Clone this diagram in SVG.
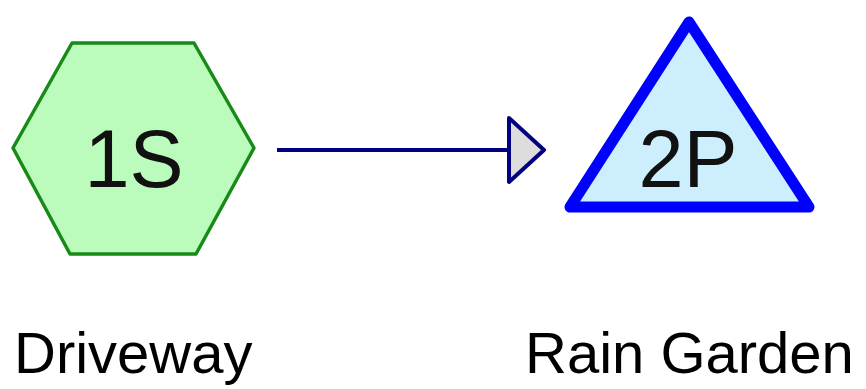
<svg xmlns="http://www.w3.org/2000/svg" width="866" height="389" viewBox="0 0 866 389">
  <style>
    .id { font-family: "Liberation Sans", Arial, sans-serif; font-size: 81px; fill: #111; text-anchor: middle; }
    .label { font-family: "Liberation Sans", Arial, sans-serif; font-size: 58px; fill: #000; }
    .subcat { fill: #bbfbbb; stroke: #178a17; stroke-width: 3.5; stroke-linejoin: round; }
    .pond { fill: #cdeefd; stroke: #0000ff; stroke-width: 11; stroke-linejoin: round; }
    .link { stroke: #000080; stroke-width: 4; fill: none; }
    .head { fill: #dddddd; stroke: #000080; stroke-width: 4; stroke-linejoin: round; }
  </style>
  <rect width="866" height="389" fill="#ffffff"/>

  <g id="connectors">
    <line class="link" x1="277" y1="150" x2="509" y2="150"/>
    <polygon class="head" points="509,118 544,150 509,182"/>
  </g>

  <g id="node-1S">
    <polygon class="subcat" points="72,43 194,43 254,148 196,254 70,254 13,148"/>
    <text class="id" x="134" y="187">1S</text>
    <text class="label" x="14" y="373">Driveway</text>
  </g>

  <g id="node-2P">
    <polygon class="pond" points="689,22 570,207 809,207"/>
    <text class="id" x="688" y="187">2P</text>
    <text class="label" x="525" y="373">Rain Garden</text>
  </g>
</svg>
